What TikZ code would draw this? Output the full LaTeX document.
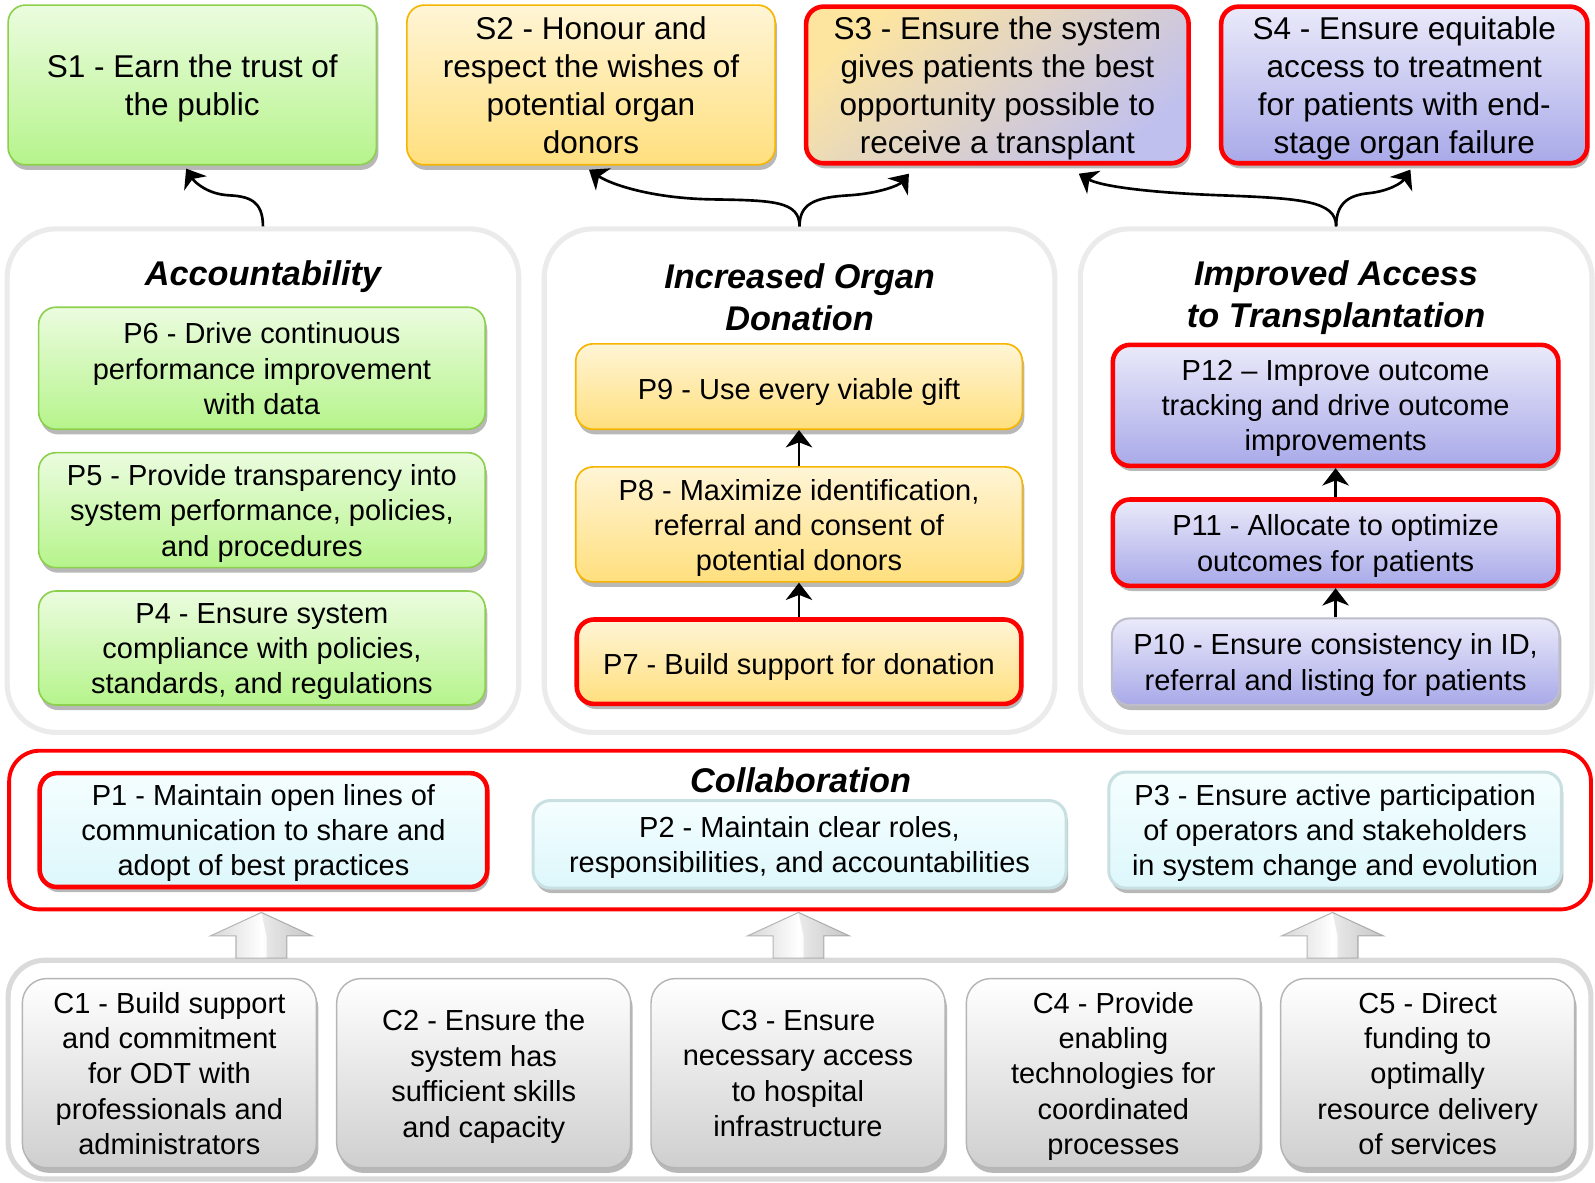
\documentclass[tikz,border=0pt]{standalone}
\usepackage{fontspec}
\setmainfont{Liberation Sans}
\usetikzlibrary{shadows,arrows.meta,calc}
\definecolor{gtop}{HTML}{EBFCDF}
\definecolor{gbot}{HTML}{B6F48C}
\definecolor{gbor}{HTML}{8CD04E}
\definecolor{ytop}{HTML}{FFF5D6}
\definecolor{ybot}{HTML}{FFDF7E}
\definecolor{ybor}{HTML}{F7B500}
\definecolor{ltop}{HTML}{EAEAFA}
\definecolor{lbot}{HTML}{A9A9E9}
\definecolor{lbor}{HTML}{BDBDCB}
\definecolor{ctop}{HTML}{F5FEFF}
\definecolor{cbot}{HTML}{DDF7FB}
\definecolor{cbor}{HTML}{C9E0E3}
\definecolor{ktop}{HTML}{FFFFFF}
\definecolor{kbot}{HTML}{CFCFCF}
\definecolor{kbor}{HTML}{B5B5B5}
\definecolor{pbor}{HTML}{EBEBEB}
\definecolor{qbor}{HTML}{DADADA}
\definecolor{redb}{HTML}{FF0000}
\definecolor{s3a}{HTML}{FDE5A0}
\definecolor{s3b}{HTML}{C0C0EE}
% #1 box style, #2 name, #3 centre, #4 width, #5 height, #6 text style, #7 text
\newcommand\mybox[7]{%
  \node[#1,minimum width=#4pt,minimum height=#5pt] (#2) at (#3) {};
  \node[txt,#6] (#2t) at ($(#2.center)+(0,5.5)$) {#7};}
\begin{document}
\begin{tikzpicture}[x=1pt,y=-1pt,
  shd/.style={drop shadow={shadow xshift=2pt,shadow yshift=-5pt,opacity=0.28,fill=black}},
  base/.style={rounded corners=17pt,inner sep=0pt,shd},
  txt/.style={align=center,inner sep=0pt,execute at begin node={\strut},execute at end node={\strut}},
  sfont/.style={font=\fontsize{31}{37.3}\selectfont},
  pfont/.style={font=\fontsize{28.5}{34.5}\selectfont},
  cfont/.style={font=\fontsize{28.5}{34.8}\selectfont},
  greenbox/.style={base,draw=gbor,line width=1.6pt,top color=gtop,bottom color=gbot},
  yellowbox/.style={base,draw=ybor,line width=1.6pt,top color=ytop,bottom color=ybot},
  lavbox/.style={base,draw=lbor,line width=2pt,top color=ltop,bottom color=lbot},
  cyanbox/.style={base,draw=cbor,line width=3pt,top color=ctop,bottom color=cbot},
  graybox/.style={base,rounded corners=24pt,draw=kbor,line width=1.4pt,top color=ktop,bottom color=kbot},
  redline/.style={draw=redb,line width=4.5pt},
  panel/.style={draw=pbor,line width=5pt,fill=white,rounded corners=48pt},
  ttl/.style={font=\fontsize{33.7}{41}\selectfont\bfseries\itshape,align=center,inner sep=0pt},
  arr/.style={draw=black,line width=2.6pt,-{Stealth[length=17pt,width=26pt,inset=5pt]}},
  blockarrow/.style={draw=kbor,line width=1pt,left color=kbot!85,right color=kbot!85,middle color=white},
  bevel/.style={fill=black,opacity=0.08}
]
\useasboundingbox (0,0) rectangle (1568,1162);
\fill[white] (0,0) rectangle (1568,1162);

% top S boxes
\mybox{greenbox}{s1}{189,83.5}{362}{157}{sfont}{S1 - Earn the trust of\\the public}
\mybox{yellowbox}{s2}{581,83.5}{362}{157}{sfont}{S2 - Honour and\\respect the wishes of\\potential organ\\donors}
\mybox{base,redline,top color=s3a,bottom color=s3b,shading angle=40}{s3}{980.5,83.5}{376}{154}{sfont}{S3 - Ensure the system\\gives patients the best\\opportunity possible to\\receive a transplant}
\mybox{base,redline,top color=ltop,bottom color=lbot}{s4}{1380.5,83.5}{360}{154}{sfont}{S4 - Ensure equitable\\access to treatment\\for patients with end-\\stage organ failure}

% panels
\node[panel,minimum width=503pt,minimum height=495pt] (pa) at (258.5,472.5) {};
\node[panel,minimum width=502pt,minimum height=495pt] (pi) at (786,472.5) {};
\node[panel,minimum width=503pt,minimum height=495pt] (pt) at (1313.5,472.5) {};

\node[ttl] (ta) at (258.5,272) {Accountability};
\node[ttl] (ti) at (786,292.5) {Increased Organ\\Donation};
\node[ttl] (tt) at (1313.5,292.5) {Improved Access\\to Transplantation};

% curved connectors
\draw[arr] (pa.north) .. controls ($(pa.north)+(0,-25)$) and (245,193) .. (225,192)
  .. controls (205,191) and (192,180) .. ($(s1.south)+(-6,3)$);
\draw[arr] (pi.north) .. controls ($(pi.north)+(0,-25)$) and (760,197) .. (700,196)
  .. controls (640,195) and (600,181) .. ($(s2.south)+(-2,4)$);
\draw[arr] (pi.north) .. controls ($(pi.north)+(0,-22)$) and (800,194) .. (835,192)
  .. controls (865,190) and (884,182) .. ($(s3.south)+(-87,8)$);
\draw[arr] (pt.north) .. controls ($(pt.north)+(0,-25)$) and (1280,195) .. (1200,192)
  .. controls (1120,189) and (1080,182) .. ($(s3.south)+(80,8)$);
\draw[arr] (pt.north) .. controls ($(pt.north)+(0,-22)$) and (1325,192) .. (1345,190)
  .. controls (1365,188) and (1378,180) .. ($(s4.south)+(6,4)$);

% accountability boxes
\mybox{greenbox}{p6}{257.5,362}{439}{120}{pfont}{P6 - Drive continuous\\performance improvement\\with data}
\mybox{greenbox}{p5}{257.5,501.5}{439}{113}{pfont}{P5 - Provide transparency into\\system performance, policies,\\and procedures}
\mybox{greenbox}{p4}{257.5,637}{439}{112}{pfont}{P4 - Ensure system\\compliance with policies,\\standards, and regulations}

% donation boxes
\mybox{yellowbox}{p9}{785.5,380}{439}{84}{pfont}{P9 - Use every viable gift}
\mybox{yellowbox}{p8}{785.5,515.5}{439}{113}{pfont}{P8 - Maximize identification,\\referral and consent of\\potential donors}
\mybox{yellowbox,redline}{p7}{785.5,650.5}{437}{83}{pfont}{P7 - Build support for donation}
\draw[arr] (p8.north) -- (p9.south);
\draw[arr] (p7.north) -- (p8.south);

% transplantation boxes
\mybox{lavbox,redline}{p12}{1313,398.5}{438}{119}{pfont}{P12 – Improve outcome\\tracking and drive outcome\\improvements}
\mybox{lavbox,redline}{p11}{1313,533.5}{438}{85}{pfont}{P11 - Allocate to optimize\\outcomes for patients}
\mybox{lavbox}{p10}{1313,650.5}{440}{85}{pfont}{P10 - Ensure consistency in ID,\\referral and listing for patients}
\draw[arr] (p11.north) -- (p12.south);
\draw[arr] (p10.north) -- (p11.south);

% collaboration
\node[draw=redb,line width=3.8pt,fill=white,rounded corners=30pt,minimum width=1555pt,minimum height=156pt] (col) at (786.5,816) {};
\node[ttl] (tc) at (787,767) {Collaboration};
\mybox{cyanbox,redline}{p1}{259,816}{440}{112}{pfont}{P1 - Maintain open lines of\\communication to share and\\adopt of best practices}
\mybox{cyanbox}{p2}{786,830}{524}{86}{pfont}{P2 - Maintain clear roles,\\responsibilities, and accountabilities}
\mybox{cyanbox}{p3}{1312.5,816}{445}{114}{pfont}{P3 - Ensure active participation\\of operators and stakeholders\\in system change and evolution}

% foundation panel
\node[draw=qbor,line width=5pt,fill=white,rounded corners=36pt,minimum width=1556pt,minimum height=215pt] (cp) at (786,1051.5) {};

% block arrows
\foreach \bx/\nm in {257/ba, 785/bb, 1310/bc} {
  \coordinate (\nm) at (\bx,942);
  \path[blockarrow] ($(\nm)+(-25,0)$) -- ++(0,-22) -- ++(-25,0) -- ++(50,-23) -- ++(50,23) -- ++(-25,0) -- ++(0,22) -- cycle;
  \fill[bevel] ($(\nm)+(5,0)$) -- ++(0,-22) -- ++(-5,-23) -- ++(50,23) -- ++(-25,0) -- ++(0,22) -- cycle;
}

% C boxes
\mybox{graybox}{c1}{166.5,1055}{289}{186}{cfont}{C1 - Build support\\and commitment\\for ODT with\\professionals and\\administrators}
\mybox{graybox}{c2}{475.5,1055}{289}{186}{cfont}{C2 - Ensure the\\system has\\sufficient skills\\and capacity}
\mybox{graybox}{c3}{784.5,1055}{289}{186}{cfont}{C3 - Ensure\\necessary access\\to hospital\\infrastructure}
\mybox{graybox}{c4}{1094.5,1055}{289}{186}{cfont}{C4 - Provide\\enabling\\technologies for\\coordinated\\processes}
\mybox{graybox}{c5}{1403.5,1055}{289}{186}{cfont}{C5 - Direct\\funding to\\optimally\\resource delivery\\of services}
\end{tikzpicture}
\end{document}
